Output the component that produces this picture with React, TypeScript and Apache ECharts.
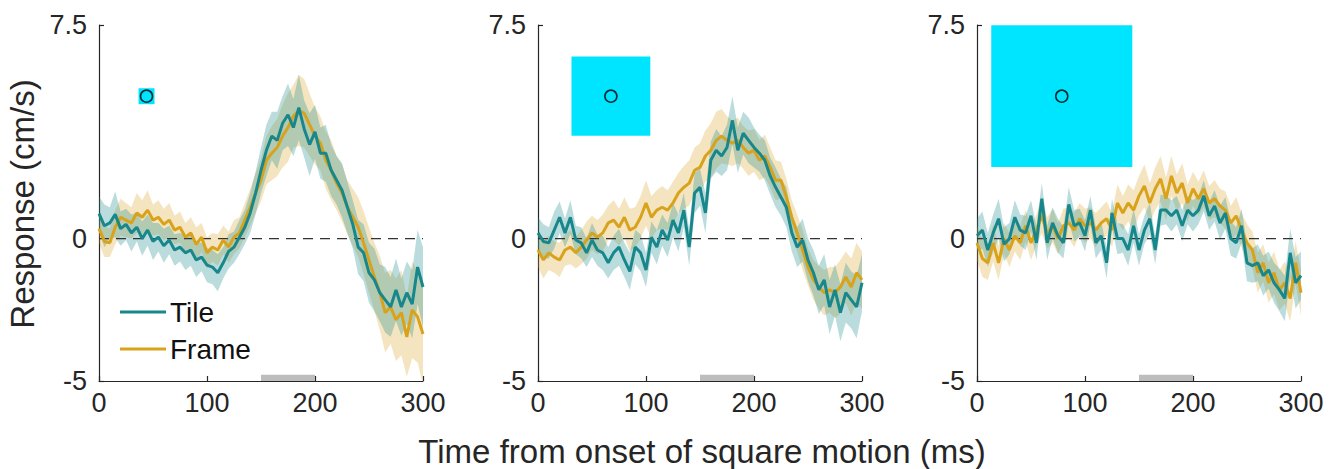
import React, { useEffect, useRef } from "react";
import * as echarts from "echarts";

// ---------- data ----------
const TIME_MS = Array.from({ length: 61 }, (_, i) => i * 5);
const X_TICKS = [0, 100, 200, 300];
const Y_TICKS = [-5, 0, 7.5];
const SERIES_NAMES = ["Tile", "Frame"];

const P1_TILE = [0.88, 0.45, 0.55, 0.85, 0.35, 0.5, 0.2, 0.4, 0.0, 0.3, -0.1, 0.05, -0.25, -0.05, -0.4, -0.3, -0.5, -0.4, -0.75, -0.65, -0.93, -1.0, -1.2, -0.85, -0.45, -0.3, 0.05, 0.4, 0.9, 1.6, 2.4, 3.1, 3.6, 3.45, 4.05, 4.35, 3.9, 4.6, 3.85, 3.3, 3.75, 3.0, 3.0, 2.4, 2.05, 1.7, 1.1, 0.5, -0.3, -0.5, -1.2, -1.45, -1.9, -2.15, -2.4, -1.8, -2.4, -1.9, -2.3, -1.0, -1.7];
const P1_FRAME = [0.35, -0.1, -0.15, 0.4, 0.75, 0.65, 0.55, 0.9, 0.75, 1.0, 0.65, 0.75, 0.5, 0.65, 0.3, 0.4, 0.05, 0.2, -0.2, 0.05, -0.5, -0.3, -0.4, -0.05, -0.3, 0.05, 0.2, 0.65, 1.1, 1.6, 2.05, 2.75, 3.0, 3.2, 3.6, 3.9, 4.3, 4.5, 4.4, 4.0, 3.6, 3.35, 2.75, 2.4, 1.95, 1.6, 1.1, 0.75, 0.4, -0.15, -0.75, -1.35, -1.9, -2.6, -2.4, -2.85, -2.6, -3.45, -2.5, -2.75, -3.35];
const P1_TILE_SEM = [0.6, 0.75, 0.55, 0.8, 0.6, 0.55, 0.65, 0.5, 0.6, 0.55, 0.65, 0.5, 0.6, 0.5, 0.55, 0.5, 0.6, 0.55, 0.6, 0.5, 0.6, 0.6, 0.65, 0.55, 0.6, 0.55, 0.6, 0.6, 0.7, 0.75, 0.8, 0.9, 0.85, 1.0, 0.95, 1.1, 1.0, 1.15, 1.0, 1.1, 0.95, 0.9, 1.0, 0.9, 0.85, 0.95, 0.9, 0.85, 0.95, 1.0, 1.05, 1.1, 1.0, 1.15, 1.05, 1.1, 1.0, 1.1, 1.2, 1.3, 1.4];
const P1_FRAME_SEM = [0.5, 0.55, 0.5, 0.6, 0.65, 0.6, 0.55, 0.7, 0.6, 0.7, 0.55, 0.6, 0.55, 0.6, 0.5, 0.55, 0.5, 0.55, 0.6, 0.5, 0.55, 0.5, 0.55, 0.5, 0.55, 0.6, 0.55, 0.6, 0.65, 0.7, 0.75, 0.85, 0.95, 1.0, 1.1, 1.2, 1.1, 1.25, 1.2, 1.1, 1.0, 0.95, 1.0, 1.05, 0.95, 1.0, 0.95, 1.0, 1.05, 1.1, 1.15, 1.2, 1.3, 1.4, 1.3, 1.45, 1.5, 1.4, 1.7, 1.6, 1.8];

const P2_TILE = [0.2, -0.1, -0.15, 0.3, 0.75, 0.2, 0.75, -0.05, -0.15, -0.5, -0.05, -0.4, -0.5, -0.85, -0.5, -0.3, -0.75, -1.15, -0.3, -0.5, -1.1, 0.05, -0.3, 0.3, -0.05, 0.65, 0.2, 1.0, -0.3, 1.6, 1.8, 0.9, 2.75, 3.1, 2.9, 3.2, 4.15, 3.1, 3.7, 3.45, 3.2, 3.0, 2.75, 2.2, 1.8, 1.45, 1.1, 0.2, -0.3, -0.05, -0.75, -1.2, -1.8, -1.45, -2.4, -1.8, -2.6, -1.9, -2.15, -2.4, -1.55];
const P2_FRAME = [-0.4, -0.75, -0.5, -0.65, -0.75, -0.4, -0.3, -0.5, -0.3, -0.05, 0.2, 0.05, 0.2, 0.55, 0.65, 0.4, 0.75, 0.3, 0.4, 0.75, 1.25, 0.75, 1.0, 1.1, 1.0, 1.25, 1.6, 1.8, 1.95, 2.4, 2.5, 2.9, 3.1, 3.45, 3.6, 3.45, 3.35, 3.45, 3.2, 3.0, 3.1, 2.75, 2.9, 2.5, 2.05, 2.05, 1.45, 0.75, 0.2, -0.4, -1.0, -1.45, -1.7, -1.9, -1.8, -1.9, -1.7, -1.35, -1.7, -1.2, -1.45];
const P2_TILE_SEM = [0.55, 0.6, 0.55, 0.65, 0.55, 0.5, 0.6, 0.5, 0.55, 0.5, 0.6, 0.55, 0.6, 0.55, 0.6, 0.65, 0.6, 0.65, 0.6, 0.65, 0.6, 0.55, 0.6, 0.55, 0.6, 0.6, 0.65, 0.6, 0.65, 0.7, 0.65, 0.7, 0.65, 0.75, 0.7, 0.8, 0.85, 0.8, 0.75, 0.8, 0.7, 0.65, 0.7, 0.65, 0.7, 0.65, 0.7, 0.65, 0.7, 0.75, 0.75, 0.8, 0.85, 0.9, 0.95, 0.9, 1.0, 1.05, 1.0, 1.1, 1.0];
const P2_FRAME_SEM = [0.6, 0.65, 0.6, 0.55, 0.6, 0.55, 0.6, 0.55, 0.6, 0.65, 0.6, 0.6, 0.65, 0.6, 0.7, 0.65, 0.7, 0.75, 0.7, 0.75, 0.8, 0.75, 0.7, 0.75, 0.7, 0.75, 0.7, 0.75, 0.8, 0.8, 0.85, 0.9, 0.95, 1.0, 0.95, 0.85, 0.8, 0.8, 0.75, 0.8, 0.75, 0.7, 0.75, 0.7, 0.7, 0.65, 0.65, 0.6, 0.65, 0.7, 0.65, 0.7, 0.75, 0.8, 0.8, 0.9, 0.95, 0.9, 1.0, 1.05, 1.0];

const P3_TILE = [0.1, 0.3, -0.4, 0.2, 0.7, -0.2, 0.0, 0.75, 0.3, 0.2, 0.8, -0.15, 1.4, -0.15, 0.55, 0.1, -0.15, 1.2, 0.45, 0.55, 0.1, 1.0, -0.15, 0.1, -0.85, 0.9, 0.0, 0.0, -0.4, 0.45, -0.4, 0.3, 0.7, -0.4, 1.0, 1.0, 0.8, 1.0, 0.45, 1.0, 0.8, 1.0, 1.5, 0.8, 1.15, 0.55, 0.9, 0.0, -0.15, 0.45, -0.85, -0.95, -0.85, -1.3, -1.1, -1.55, -1.8, -2.1, -0.5, -1.55, -1.3];
const P3_FRAME = [-0.15, -0.7, -0.85, -0.15, -0.85, 0.0, -0.4, 0.1, -0.15, 0.45, -0.15, 0.3, 0.8, 0.2, 0.45, 0.0, 0.45, 0.55, 0.3, 0.7, 0.45, 0.55, 0.3, 0.55, 0.7, 0.3, 1.25, 0.9, 1.25, 1.0, 1.5, 1.85, 1.25, 1.75, 2.1, 1.4, 2.2, 1.6, 1.95, 1.25, 1.75, 1.4, 1.75, 1.25, 1.4, 1.15, 1.0, 0.55, 0.8, 0.3, -0.15, -0.4, -1.2, -0.85, -1.55, -1.2, -1.8, -1.55, -2.1, -0.85, -1.9];
const P3_TILE_SEM = [0.6, 0.65, 0.6, 0.65, 0.7, 0.6, 0.55, 0.6, 0.55, 0.6, 0.55, 0.6, 0.55, 0.6, 0.55, 0.6, 0.55, 0.6, 0.55, 0.5, 0.55, 0.5, 0.55, 0.5, 0.55, 0.5, 0.55, 0.5, 0.55, 0.6, 0.55, 0.5, 0.55, 0.5, 0.55, 0.5, 0.55, 0.5, 0.55, 0.5, 0.55, 0.5, 0.55, 0.5, 0.55, 0.6, 0.55, 0.6, 0.55, 0.6, 0.65, 0.6, 0.65, 0.7, 0.65, 0.7, 0.75, 0.8, 0.85, 0.9, 0.85];
const P3_FRAME_SEM = [0.6, 0.65, 0.6, 0.65, 0.6, 0.55, 0.6, 0.55, 0.6, 0.55, 0.6, 0.55, 0.6, 0.55, 0.6, 0.55, 0.6, 0.55, 0.6, 0.55, 0.6, 0.55, 0.6, 0.55, 0.6, 0.6, 0.65, 0.6, 0.65, 0.7, 0.7, 0.75, 0.7, 0.75, 0.8, 0.75, 0.7, 0.65, 0.7, 0.65, 0.6, 0.6, 0.65, 0.6, 0.65, 0.6, 0.65, 0.6, 0.65, 0.6, 0.65, 0.65, 0.7, 0.65, 0.7, 0.75, 0.7, 0.75, 0.8, 0.75, 0.8];

// stimulus squares (one per panel), in data units
const SQUARE_CENTER_MS = [44, 67.5, 78.5];
const SQUARE_HALF_WIDTH_MS = [7.4, 36.5, 65.3];
const SQUARE_HALF_HEIGHT = [0.28, 1.39, 2.49];
const SQUARE_CENTER_Y = 5;
const GREY_BAR_MS = [150, 200];
const GREY_BAR_Y = [-5, -4.78];

const PANELS = [
  { tile: P1_TILE, frame: P1_FRAME, tileSem: P1_TILE_SEM, frameSem: P1_FRAME_SEM },
  { tile: P2_TILE, frame: P2_FRAME, tileSem: P2_TILE_SEM, frameSem: P2_FRAME_SEM },
  { tile: P3_TILE, frame: P3_FRAME, tileSem: P3_TILE_SEM, frameSem: P3_FRAME_SEM },
];

// ---------- style ----------
const TEAL = "#18878c";
const GOLD = "#d9a21b";
const TEAL_BAND = "rgba(27,138,143,0.3)";
const GOLD_BAND = "rgba(217,162,27,0.28)";
const AXIS = "#262626";
const FONT = "'Liberation Sans', Arial, Helvetica, sans-serif";
const GRID_LEFT = [99, 538, 977];
const GRID_WIDTH = 324;
const GRID_TOP = 25;
const GRID_HEIGHT = 356;

export default function App() {
  const ref = useRef<HTMLDivElement>(null);

  useEffect(() => {
    if (!ref.current) return;
    const chart = echarts.init(ref.current, undefined, { renderer: "svg" });

    const grids: any[] = [];
    const xAxes: any[] = [];
    const yAxes: any[] = [];
    const series: any[] = [];

    PANELS.forEach((panel, p) => {
      grids.push({ left: GRID_LEFT[p], top: GRID_TOP, width: GRID_WIDTH, height: GRID_HEIGHT, containLabel: false });
      xAxes.push({
        type: "value",
        gridIndex: p,
        min: 0,
        max: 300,
        interval: 100,
        axisLine: { show: true, onZero: false, lineStyle: { color: AXIS, width: 1.2 } },
        axisTick: { show: true, inside: true, length: 5, lineStyle: { color: AXIS, width: 1.2 } },
        axisLabel: { show: true, fontSize: 27, color: AXIS, fontFamily: FONT, margin: 8, customValues: X_TICKS },
        splitLine: { show: false },
      });
      yAxes.push({
        type: "value",
        gridIndex: p,
        min: -5,
        max: 7.5,
        axisLine: { show: true, onZero: false, lineStyle: { color: AXIS, width: 1.2 } },
        axisTick: { show: true, inside: true, length: 5, lineStyle: { color: AXIS, width: 1.2 }, customValues: Y_TICKS },
        axisLabel: { show: true, fontSize: 27, color: AXIS, fontFamily: FONT, margin: 12, customValues: Y_TICKS },
        splitLine: { show: false },
      });

      const bands = [
        { key: "frame", vals: panel.frame, sem: panel.frameSem, color: GOLD_BAND },
        { key: "tile", vals: panel.tile, sem: panel.tileSem, color: TEAL_BAND },
      ];
      bands.forEach((b) => {
        series.push({
          type: "custom",
          name: `${b.key}Band${p}`,
          xAxisIndex: p,
          yAxisIndex: p,
          silent: true,
          clip: true,
          z: 1,
          data: TIME_MS.map((t, i) => [t, b.vals[i] - b.sem[i], b.vals[i] + b.sem[i]]),
          encode: { x: 0, y: [1, 2] },
          renderItem: (params: any, api: any) => {
            if (params.dataIndex !== 0) return { type: "group", children: [] };
            const upper = TIME_MS.map((t, i) => api.coord([t, b.vals[i] + b.sem[i]]));
            const lower = TIME_MS.map((t, i) => api.coord([t, b.vals[i] - b.sem[i]])).reverse();
            return {
              type: "polygon",
              shape: { points: upper.concat(lower) },
              style: { fill: b.color, stroke: "none" },
            };
          },
        });
      });

      // zero line + decorations
      series.push({
        type: "line",
        name: `zero${p}`,
        xAxisIndex: p,
        yAxisIndex: p,
        symbol: "none",
        silent: true,
        lineStyle: { color: "#333333", width: 1.2, type: [10, 7] },
        data: [
          [0, 0],
          [300, 0],
        ],
        z: 2,
        markArea: {
          silent: true,
          data: [
            [
              { coord: [GREY_BAR_MS[0], GREY_BAR_Y[0]], itemStyle: { color: "#bdbdbd", opacity: 1 } },
              { coord: [GREY_BAR_MS[1], GREY_BAR_Y[1]] },
            ],
            [
              {
                coord: [SQUARE_CENTER_MS[p] - SQUARE_HALF_WIDTH_MS[p], SQUARE_CENTER_Y + SQUARE_HALF_HEIGHT[p]],
                itemStyle: { color: "#00e5ff", opacity: 1 },
              },
              { coord: [SQUARE_CENTER_MS[p] + SQUARE_HALF_WIDTH_MS[p], SQUARE_CENTER_Y - SQUARE_HALF_HEIGHT[p]] },
            ],
          ],
        },
      });

      series.push({
        type: "line",
        name: SERIES_NAMES[1],
        xAxisIndex: p,
        yAxisIndex: p,
        symbol: "none",
        color: GOLD,
        itemStyle: { color: GOLD },
        lineStyle: { color: GOLD, width: 3 },
        data: TIME_MS.map((t, i) => [t, panel.frame[i]]),
        z: 3,
      });
      series.push({
        type: "line",
        name: SERIES_NAMES[0],
        xAxisIndex: p,
        yAxisIndex: p,
        symbol: "none",
        color: TEAL,
        itemStyle: { color: TEAL },
        lineStyle: { color: TEAL, width: 3 },
        data: TIME_MS.map((t, i) => [t, panel.tile[i]]),
        z: 4,
      });
      series.push({
        type: "scatter",
        name: `fix${p}`,
        xAxisIndex: p,
        yAxisIndex: p,
        symbol: "circle",
        symbolSize: 12,
        silent: true,
        itemStyle: { color: "rgba(0,0,0,0)", borderColor: "#000", borderWidth: 1.6 },
        data: [[SQUARE_CENTER_MS[p], SQUARE_CENTER_Y]],
        z: 5,
      });
    });

    chart.setOption({
      animation: false,
      backgroundColor: "#ffffff",
      grid: grids,
      xAxis: xAxes,
      yAxis: yAxes,
      series,
      legend: {
        data: SERIES_NAMES,
        orient: "vertical",
        left: 115,
        top: 293,
        icon: "rect",
        itemWidth: 46,
        itemHeight: 3,
        itemGap: 9,
        selectedMode: false,
        textStyle: { fontSize: 28, color: "#111", fontFamily: FONT, padding: [0, 0, 0, -1] },
      },
      graphic: [
        {
          type: "text",
          x: 22,
          y: 204,
          rotation: Math.PI / 2,
          style: {
            text: "Response (cm/s)",
            fontSize: 33,
            fontFamily: FONT,
            fill: AXIS,
            align: "center",
            verticalAlign: "middle",
          },
        },
        {
          type: "text",
          x: 702,
          y: 451,
          style: {
            text: "Time from onset of square motion (ms)",
            fontSize: 33,
            fontFamily: FONT,
            fill: AXIS,
            align: "center",
            verticalAlign: "middle",
          },
        },
      ],
    });

    return () => {
      chart.dispose();
    };
  }, []);

  return (
    <div
      ref={ref}
      style={{ position: "fixed", left: 0, top: 0, width: 1338, height: 469, background: "#fff" }}
    />
  );
}
